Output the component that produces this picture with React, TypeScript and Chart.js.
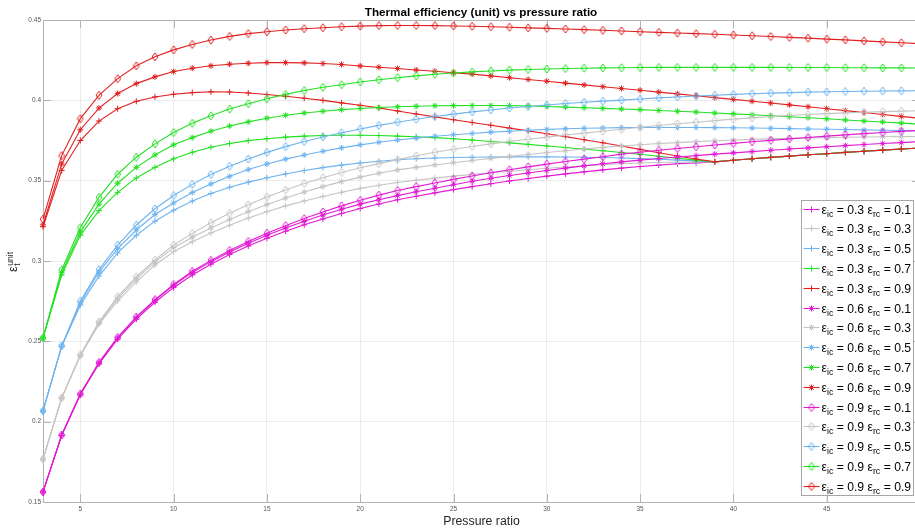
import React, { useEffect, useRef } from 'react';
import { Chart, registerables } from 'chart.js';

Chart.register(...registerables);

// ---------------- data ----------------
const pressureRatio = [3, 4, 5, 6, 7, 8, 9, 10, 11, 12, 13, 14, 15, 16, 17, 18, 19, 20, 21, 22, 23, 24, 25, 26, 27, 28, 29, 30, 31, 32, 33, 34, 35, 36, 37, 38, 39, 40, 41, 42, 43, 44, 45, 46, 47, 48, 49, 50];
const xTicks = [5, 10, 15, 20, 25, 30, 35, 40, 45];
const yTicks = [0.15, 0.2, 0.25, 0.3, 0.35, 0.4, 0.45];
const icLevels = ['0.3', '0.6', '0.9'];
const rcLevels = ['0.1', '0.3', '0.5', '0.7', '0.9'];

const eff_ic03_rc01 = [0.1562, 0.1914, 0.2167, 0.2360, 0.2513, 0.2638, 0.2743, 0.2834, 0.2913, 0.2980, 0.3040, 0.3093, 0.3141, 0.3185, 0.3225, 0.3262, 0.3296, 0.3327, 0.3355, 0.3381, 0.3403, 0.3424, 0.3444, 0.3463, 0.3481, 0.3498, 0.3513, 0.3528, 0.3542, 0.3555, 0.3567, 0.3578, 0.3588, 0.3597, 0.3605, 0.3611, 0.3617, 0.3627, 0.3636, 0.3645, 0.3653, 0.3661, 0.3668, 0.3676, 0.3683, 0.3690, 0.3697, 0.3703];
const eff_ic03_rc03 = [0.1766, 0.2145, 0.2410, 0.2607, 0.2752, 0.2870, 0.2975, 0.3058, 0.3120, 0.3175, 0.3223, 0.3267, 0.3307, 0.3343, 0.3374, 0.3402, 0.3428, 0.3452, 0.3471, 0.3489, 0.3503, 0.3516, 0.3528, 0.3539, 0.3549, 0.3559, 0.3568, 0.3577, 0.3585, 0.3593, 0.3600, 0.3606, 0.3610, 0.3613, 0.3615, 0.3616, 0.3617, 0.3627, 0.3636, 0.3645, 0.3653, 0.3661, 0.3668, 0.3676, 0.3683, 0.3690, 0.3697, 0.3703];
const eff_ic03_rc05 = [0.2066, 0.2467, 0.2725, 0.2906, 0.3050, 0.3160, 0.3248, 0.3316, 0.3373, 0.3420, 0.3459, 0.3491, 0.3518, 0.3542, 0.3563, 0.3581, 0.3597, 0.3610, 0.3621, 0.3630, 0.3636, 0.3641, 0.3644, 0.3646, 0.3647, 0.3648, 0.3648, 0.3648, 0.3647, 0.3646, 0.3644, 0.3641, 0.3637, 0.3633, 0.3628, 0.3623, 0.3617, 0.3627, 0.3636, 0.3645, 0.3653, 0.3661, 0.3668, 0.3676, 0.3683, 0.3690, 0.3697, 0.3703];
const eff_ic03_rc07 = [0.2520, 0.2913, 0.3160, 0.3313, 0.3427, 0.3517, 0.3583, 0.3636, 0.3677, 0.3708, 0.3731, 0.3749, 0.3761, 0.3771, 0.3777, 0.3781, 0.3783, 0.3783, 0.3781, 0.3777, 0.3773, 0.3768, 0.3761, 0.3753, 0.3744, 0.3735, 0.3726, 0.3716, 0.3706, 0.3696, 0.3686, 0.3675, 0.3664, 0.3652, 0.3640, 0.3628, 0.3617, 0.3627, 0.3636, 0.3645, 0.3653, 0.3661, 0.3668, 0.3676, 0.3683, 0.3690, 0.3697, 0.3703];
const eff_ic03_rc09 = [0.3213, 0.3563, 0.3750, 0.3871, 0.3948, 0.3994, 0.4021, 0.4038, 0.4048, 0.4053, 0.4052, 0.4046, 0.4036, 0.4025, 0.4013, 0.4000, 0.3984, 0.3969, 0.3953, 0.3934, 0.3915, 0.3897, 0.3879, 0.3862, 0.3845, 0.3827, 0.3810, 0.3792, 0.3774, 0.3755, 0.3736, 0.3716, 0.3695, 0.3674, 0.3654, 0.3635, 0.3617, 0.3627, 0.3636, 0.3645, 0.3653, 0.3661, 0.3668, 0.3676, 0.3683, 0.3690, 0.3697, 0.3703];

const eff_ic06_rc01 = [0.1563, 0.1916, 0.2171, 0.2366, 0.2521, 0.2648, 0.2755, 0.2848, 0.2929, 0.2996, 0.3056, 0.3111, 0.3160, 0.3205, 0.3247, 0.3286, 0.3322, 0.3354, 0.3381, 0.3407, 0.3431, 0.3453, 0.3475, 0.3496, 0.3515, 0.3532, 0.3548, 0.3563, 0.3578, 0.3592, 0.3605, 0.3617, 0.3628, 0.3638, 0.3647, 0.3656, 0.3665, 0.3673, 0.3681, 0.3689, 0.3697, 0.3704, 0.3711, 0.3718, 0.3725, 0.3731, 0.3737, 0.3743];
const eff_ic06_rc03 = [0.1767, 0.2147, 0.2414, 0.2616, 0.2767, 0.2889, 0.2994, 0.3083, 0.3148, 0.3206, 0.3259, 0.3307, 0.3351, 0.3392, 0.3429, 0.3463, 0.3494, 0.3522, 0.3546, 0.3567, 0.3583, 0.3598, 0.3612, 0.3626, 0.3639, 0.3651, 0.3663, 0.3675, 0.3686, 0.3697, 0.3707, 0.3716, 0.3724, 0.3731, 0.3737, 0.3743, 0.3748, 0.3753, 0.3757, 0.3760, 0.3763, 0.3766, 0.3768, 0.3770, 0.3772, 0.3773, 0.3774, 0.3775];
const eff_ic06_rc05 = [0.2067, 0.2470, 0.2739, 0.2931, 0.3077, 0.3193, 0.3289, 0.3361, 0.3426, 0.3480, 0.3527, 0.3569, 0.3604, 0.3634, 0.3660, 0.3683, 0.3704, 0.3723, 0.3739, 0.3753, 0.3765, 0.3776, 0.3786, 0.3794, 0.3802, 0.3808, 0.3814, 0.3819, 0.3823, 0.3826, 0.3828, 0.3830, 0.3831, 0.3831, 0.3831, 0.3831, 0.3830, 0.3829, 0.3828, 0.3826, 0.3824, 0.3822, 0.3820, 0.3818, 0.3816, 0.3814, 0.3812, 0.3810];
const eff_ic06_rc07 = [0.2521, 0.2927, 0.3181, 0.3354, 0.3484, 0.3583, 0.3660, 0.3723, 0.3768, 0.3808, 0.3840, 0.3866, 0.3889, 0.3907, 0.3921, 0.3932, 0.3942, 0.3949, 0.3955, 0.3960, 0.3963, 0.3966, 0.3967, 0.3968, 0.3968, 0.3967, 0.3965, 0.3962, 0.3958, 0.3954, 0.3950, 0.3946, 0.3942, 0.3937, 0.3932, 0.3927, 0.3921, 0.3916, 0.3910, 0.3904, 0.3898, 0.3892, 0.3885, 0.3878, 0.3871, 0.3865, 0.3858, 0.3852];
const eff_ic06_rc09 = [0.3225, 0.3604, 0.3817, 0.3952, 0.4042, 0.4104, 0.4146, 0.4179, 0.4200, 0.4215, 0.4225, 0.4231, 0.4235, 0.4235, 0.4233, 0.4229, 0.4223, 0.4214, 0.4206, 0.4198, 0.4189, 0.4181, 0.4172, 0.4163, 0.4152, 0.4141, 0.4130, 0.4119, 0.4107, 0.4096, 0.4085, 0.4074, 0.4063, 0.4051, 0.4040, 0.4029, 0.4017, 0.4006, 0.3994, 0.3983, 0.3972, 0.3960, 0.3948, 0.3936, 0.3924, 0.3912, 0.3900, 0.3888];

const eff_ic09_rc01 = [0.1563, 0.1917, 0.2173, 0.2369, 0.2525, 0.2652, 0.2760, 0.2854, 0.2936, 0.3004, 0.3066, 0.3122, 0.3173, 0.3220, 0.3264, 0.3305, 0.3343, 0.3378, 0.3410, 0.3439, 0.3463, 0.3486, 0.3508, 0.3529, 0.3549, 0.3568, 0.3586, 0.3603, 0.3619, 0.3634, 0.3649, 0.3665, 0.3677, 0.3689, 0.3700, 0.3711, 0.3722, 0.3732, 0.3742, 0.3751, 0.3760, 0.3769, 0.3777, 0.3785, 0.3793, 0.3800, 0.3807, 0.3813];
const eff_ic09_rc03 = [0.1767, 0.2148, 0.2416, 0.2621, 0.2778, 0.2902, 0.3006, 0.3100, 0.3172, 0.3238, 0.3297, 0.3350, 0.3398, 0.3442, 0.3482, 0.3518, 0.3551, 0.3580, 0.3606, 0.3631, 0.3655, 0.3677, 0.3696, 0.3713, 0.3729, 0.3744, 0.3758, 0.3771, 0.3784, 0.3796, 0.3808, 0.3820, 0.3832, 0.3843, 0.3854, 0.3864, 0.3874, 0.3883, 0.3891, 0.3899, 0.3906, 0.3912, 0.3917, 0.3922, 0.3926, 0.3930, 0.3933, 0.3935];
const eff_ic09_rc05 = [0.2067, 0.2472, 0.2750, 0.2946, 0.3099, 0.3224, 0.3325, 0.3408, 0.3477, 0.3538, 0.3590, 0.3635, 0.3676, 0.3712, 0.3744, 0.3772, 0.3798, 0.3822, 0.3844, 0.3864, 0.3882, 0.3899, 0.3914, 0.3928, 0.3940, 0.3952, 0.3962, 0.3971, 0.3980, 0.3988, 0.3995, 0.4001, 0.4008, 0.4015, 0.4021, 0.4027, 0.4032, 0.4037, 0.4041, 0.4045, 0.4048, 0.4051, 0.4053, 0.4055, 0.4057, 0.4058, 0.4059, 0.4060];
const eff_ic09_rc07 = [0.2522, 0.2944, 0.3208, 0.3396, 0.3540, 0.3646, 0.3729, 0.3800, 0.3857, 0.3904, 0.3946, 0.3979, 0.4010, 0.4037, 0.4061, 0.4081, 0.4097, 0.4114, 0.4128, 0.4141, 0.4152, 0.4162, 0.4170, 0.4177, 0.4183, 0.4188, 0.4192, 0.4195, 0.4198, 0.4200, 0.4202, 0.4203, 0.4204, 0.4205, 0.4205, 0.4205, 0.4205, 0.4205, 0.4205, 0.4205, 0.4204, 0.4204, 0.4204, 0.4203, 0.4203, 0.4202, 0.4202, 0.4201];
const eff_ic09_rc09 = [0.3261, 0.3656, 0.3886, 0.4031, 0.4135, 0.4215, 0.4271, 0.4314, 0.4348, 0.4375, 0.4398, 0.4415, 0.4427, 0.4438, 0.4446, 0.4452, 0.4458, 0.4462, 0.4465, 0.4466, 0.4466, 0.4465, 0.4463, 0.4461, 0.4458, 0.4455, 0.4451, 0.4448, 0.4444, 0.4440, 0.4436, 0.4432, 0.4427, 0.4423, 0.4419, 0.4415, 0.4411, 0.4407, 0.4402, 0.4397, 0.4392, 0.4387, 0.4381, 0.4376, 0.4370, 0.4364, 0.4358, 0.4353];

const seriesByIc = [
  [eff_ic03_rc01, eff_ic03_rc03, eff_ic03_rc05, eff_ic03_rc07, eff_ic03_rc09],
  [eff_ic06_rc01, eff_ic06_rc03, eff_ic06_rc05, eff_ic06_rc07, eff_ic06_rc09],
  [eff_ic09_rc01, eff_ic09_rc03, eff_ic09_rc05, eff_ic09_rc07, eff_ic09_rc09],
];

// ---------------- styles ----------------
const rcColors = ['#e01ad2', '#c4c4c4', '#6db3ef', '#22e022', '#e02020'];
const icMarkers = ['cross', 'star', 'diamond'];
const FONT = '"Liberation Sans", Arial, Helvetica, sans-serif';
const AXIS_COLOR = '#b2b2b2';
const TEXT_COLOR = '#262626';

function makeDiamond(color: string) {
  const c = document.createElement('canvas');
  c.width = 8;
  c.height = 10;
  const g = c.getContext('2d')!;
  g.strokeStyle = color;
  g.lineWidth = 1;
  g.beginPath();
  g.moveTo(4, 1);
  g.lineTo(7, 5);
  g.lineTo(4, 9);
  g.lineTo(1, 5);
  g.closePath();
  g.stroke();
  return c;
}

function drawMarker(ctx: CanvasRenderingContext2D, kind: string, color: string, img: HTMLCanvasElement, x: number, y: number) {
  if (kind === 'diamond') {
    ctx.drawImage(img, x - img.width / 2, y - img.height / 2);
    return;
  }
  ctx.save();
  ctx.strokeStyle = color;
  ctx.lineWidth = 1;
  ctx.beginPath();
  ctx.moveTo(x - 3, y);
  ctx.lineTo(x + 3, y);
  ctx.moveTo(x, y - 3);
  ctx.lineTo(x, y + 3);
  if (kind === 'star') {
    const d = 2.2;
    ctx.moveTo(x - d, y - d);
    ctx.lineTo(x + d, y + d);
    ctx.moveTo(x - d, y + d);
    ctx.lineTo(x + d, y - d);
  }
  ctx.stroke();
  ctx.restore();
}

type Part = { t: string; size: number; dy?: number; bold?: boolean };
function drawRich(ctx: CanvasRenderingContext2D, parts: Part[], x: number, y: number) {
  let cx = x;
  for (const p of parts) {
    ctx.font = `${p.bold ? 'bold ' : ''}${p.size}px ${FONT}`;
    ctx.fillText(p.t, cx, y + (p.dy || 0));
    cx += ctx.measureText(p.t).width;
  }
  return cx;
}

export default function App() {
  const ref = useRef<HTMLCanvasElement>(null);

  useEffect(() => {
    const canvas = ref.current!;
    const diamonds = rcColors.map((c) => makeDiamond(c));

    const datasets: any[] = [];
    const legendItems: { ic: string; rc: string; color: string; marker: string; img: HTMLCanvasElement }[] = [];
    icLevels.forEach((ic, i) => {
      rcLevels.forEach((rc, j) => {
        const idx = i * 5 + j;
        const marker = icMarkers[i];
        const color = rcColors[j];
        datasets.push({
          label: `ic=${ic} rc=${rc}`,
          data: pressureRatio.map((x, k) => ({ x, y: seriesByIc[i][j][k] })),
          borderColor: color,
          backgroundColor: 'transparent',
          borderWidth: 1.1,
          tension: 0,
          pointStyle: marker === 'diamond' ? diamonds[j] : marker,
          pointRadius: 3,
          pointHoverRadius: 3,
          pointBorderColor: color,
          pointBackgroundColor: 'transparent',
          pointBorderWidth: 1,
          clip: false,
          order: 14 - idx,
        });
        legendItems.push({ ic, rc, color, marker, img: diamonds[j] });
      });
    });

    const decor = {
      id: 'decor',
      beforeDatasetsDraw(chart: any) {
        const { ctx, chartArea: a, scales } = chart;
        const xs = scales.x;
        const ys = scales.y;
        const tl = 8;
        ctx.save();
        ctx.strokeStyle = AXIS_COLOR;
        ctx.lineWidth = 1;
        ctx.beginPath();
        const top = Math.round(a.top) + 0.5;
        const right = Math.round(a.right) - 0.5;
        ctx.moveTo(a.left, top);
        ctx.lineTo(a.right, top);
        ctx.moveTo(right, a.top);
        ctx.lineTo(right, a.bottom);
        for (const v of xTicks) {
          const px = Math.round(xs.getPixelForValue(v)) + 0.5;
          ctx.moveTo(px, a.bottom);
          ctx.lineTo(px, a.bottom - tl);
          ctx.moveTo(px, a.top);
          ctx.lineTo(px, a.top + tl);
        }
        for (const v of yTicks) {
          const py = Math.round(ys.getPixelForValue(v)) + 0.5;
          ctx.moveTo(a.left, py);
          ctx.lineTo(a.left + tl, py);
          ctx.moveTo(a.right, py);
          ctx.lineTo(a.right - tl, py);
        }
        ctx.stroke();
        ctx.restore();
      },
      afterDraw(chart: any) {
        const { ctx } = chart;
        ctx.save();
        // title
        ctx.fillStyle = '#000';
        ctx.textBaseline = 'alphabetic';
        ctx.textAlign = 'center';
        ctx.font = `bold 11.7px ${FONT}`;
        ctx.fillText('Thermal efficiency (unit) vs pressure ratio', 481, 16);
        // x label
        ctx.fillStyle = TEXT_COLOR;
        ctx.font = `12.3px ${FONT}`;
        ctx.fillText('Pressure ratio', 481.5, 525);
        // y label (rotated, with sub/superscript)
        ctx.textAlign = 'left';
        ctx.save();
        ctx.translate(16.5, 272);
        ctx.rotate(-Math.PI / 2);
        ctx.font = `13px ${FONT}`;
        ctx.fillText('ε', 0, 0);
        const we = ctx.measureText('ε').width;
        ctx.font = `8.5px ${FONT}`;
        ctx.fillText('unit', we + 0.5, -3.5);
        ctx.fillText('t', we + 0.5, 3);
        ctx.restore();

        // legend
        const lx0 = 801, lx1 = 914, ly0 = 200, ly1 = 496;
        ctx.fillStyle = '#fff';
        ctx.fillRect(lx0, ly0, lx1 - lx0, ly1 - ly0);
        ctx.strokeStyle = '#a6a6a6';
        ctx.lineWidth = 1;
        ctx.strokeRect(lx0 + 0.5, ly0 + 0.5, lx1 - lx0 - 1, ly1 - ly0 - 1);
        legendItems.forEach((it, i) => {
          const cy = Math.round(208.5 + i * 19.8) + 0.5;
          ctx.strokeStyle = it.color;
          ctx.lineWidth = 1.1;
          ctx.beginPath();
          ctx.moveTo(803.5, cy);
          ctx.lineTo(819.5, cy);
          ctx.stroke();
          drawMarker(ctx, it.marker, it.color, it.img, 811.5, cy);
          ctx.fillStyle = '#000';
          drawRich(
            ctx,
            [
              { t: 'ε', size: 12.2 },
              { t: 'ic', size: 8.8, dy: 3.5 },
              { t: ` = ${it.ic} `, size: 12.2 },
              { t: 'ε', size: 12.2 },
              { t: 'rc', size: 8.8, dy: 3.5 },
              { t: ` = ${it.rc}`, size: 12.2 },
            ],
            821.5,
            cy + 4.3
          );
        });
        ctx.restore();
      },
    };

    const chart = new Chart(canvas, {
      type: 'line',
      data: { datasets },
      options: {
        animation: false,
        responsive: false,
        maintainAspectRatio: false,
        events: [],
        layout: { padding: { left: 0, right: 5, top: 20, bottom: 0 } },
        plugins: {
          legend: { display: false },
          tooltip: { enabled: false },
          title: { display: false },
        },
        scales: {
          x: {
            type: 'linear',
            min: 3,
            max: 50,
            afterBuildTicks: (scale: any) => {
              scale.ticks = xTicks.map((v) => ({ value: v }));
            },
            afterFit: (scale: any) => {
              scale.height = 27;
            },
            grid: { color: '#ececec', drawTicks: false, lineWidth: 1 },
            border: { display: true, color: AXIS_COLOR, width: 1 },
            ticks: {
              autoSkip: false,
              maxRotation: 0,
              padding: 3,
              color: '#555',
              font: { family: FONT, size: 6.5 },
              callback: (v: any) => String(v),
            },
          },
          y: {
            type: 'linear',
            min: 0.15,
            max: 0.45,
            afterBuildTicks: (scale: any) => {
              scale.ticks = yTicks.map((v) => ({ value: v }));
            },
            afterFit: (scale: any) => {
              scale.width = 43;
            },
            grid: { color: '#ececec', drawTicks: false, lineWidth: 1 },
            border: { display: true, color: AXIS_COLOR, width: 1 },
            ticks: {
              autoSkip: false,
              padding: 2,
              color: '#555',
              font: { family: FONT, size: 6.5 },
              callback: (v: any) => String(Number(Number(v).toFixed(2))),
            },
          },
        },
      },
      plugins: [decor],
    } as any);

    return () => chart.destroy();
  }, []);

  return (
    <div style={{ position: 'fixed', left: 0, top: 0, width: 915, height: 529, overflow: 'hidden', background: '#fff' }}>
      <canvas ref={ref} width={925} height={529} style={{ display: 'block', width: 925, height: 529 }} />
    </div>
  );
}
